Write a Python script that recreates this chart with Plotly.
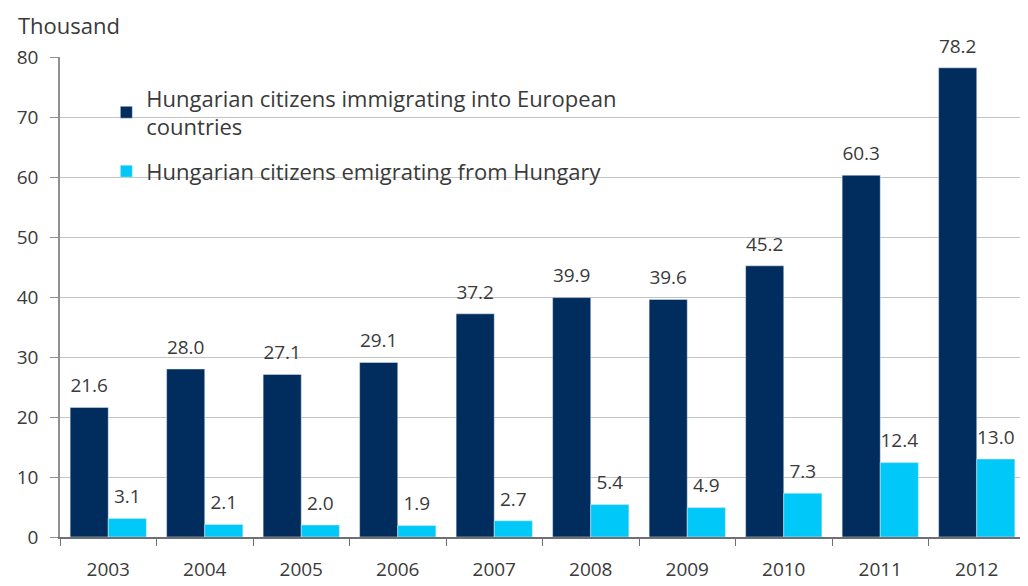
import plotly.graph_objects as go

years = ["2003", "2004", "2005", "2006", "2007", "2008", "2009", "2010", "2011", "2012"]
immigrating = [21.6, 28.0, 27.1, 29.1, 37.2, 39.9, 39.6, 45.2, 60.3, 78.2]
emigrating = [3.1, 2.1, 2.0, 1.9, 2.7, 5.4, 4.9, 7.3, 12.4, 13.0]
name_imm = "Hungarian citizens immigrating into European<br>countries"
name_emi = "Hungarian citizens emigrating from Hungary"
dark = "#002d5e"
light = "#00c8f8"

FONT = "Open Sans"
TXT = "#3a3a3a"
GAP = 0.21

fig = go.Figure()
for name, vals, col, grp in [(name_imm, immigrating, dark, "a"), (name_emi, emigrating, light, "b")]:
    fig.add_trace(go.Bar(x=years, y=vals, name=name, marker_color=col,
                         legendgroup=grp, offsetgroup=grp))
for vals, grp in [(immigrating, "a"), (emigrating, "b")]:
    fig.add_trace(go.Scatter(
        x=years, y=vals, mode="markers+text", offsetgroup=grp, showlegend=False,
        marker=dict(size=15, color="rgba(0,0,0,0)"),
        text=[f"{v:.1f}" for v in vals], textposition="top center",
        textfont=dict(family=FONT, size=19, color=TXT), cliponaxis=False,
        hoverinfo="skip",
    ))

fig.update_layout(
    width=1020, height=578,
    margin=dict(l=52, r=3, t=49, b=49),
    paper_bgcolor="white", plot_bgcolor="white",
    barmode="group", bargap=GAP, bargroupgap=0,
    scattermode="group", scattergap=GAP,
    font=dict(family=FONT, size=19, color=TXT),
    showlegend=True,
    legend=dict(x=0.048, y=0.958, xanchor="left", yanchor="top",
                font=dict(family=FONT, size=22, color=TXT),
                bgcolor="rgba(0,0,0,0)", traceorder="grouped", tracegroupgap=13,
                itemwidth=30),
    annotations=[dict(text="Thousand", xref="paper", yref="paper", x=-0.0455, y=1.0667,
                      xanchor="left", yanchor="middle", showarrow=False,
                      font=dict(family=FONT, size=22, color=TXT))],
)
fig.update_xaxes(showline=True, linecolor="#707070", linewidth=1.5,
                 ticks="outside", tickson="boundaries", ticklen=7, tickcolor="#707070",
                 ticklabelstandoff=14, automargin=False,
                 tickfont=dict(family=FONT, size=19, color=TXT))
fig.update_yaxes(range=[0, 80], dtick=10, showgrid=True, gridcolor="#c4c4c4",
                 showline=True, linecolor="#909090", linewidth=1.5,
                 ticks="outside", ticklen=8, tickcolor="#909090", zeroline=False,
                 ticklabelstandoff=8, automargin=False,
                 tickfont=dict(family=FONT, size=19, color=TXT))

fig.write_html("out.html")
